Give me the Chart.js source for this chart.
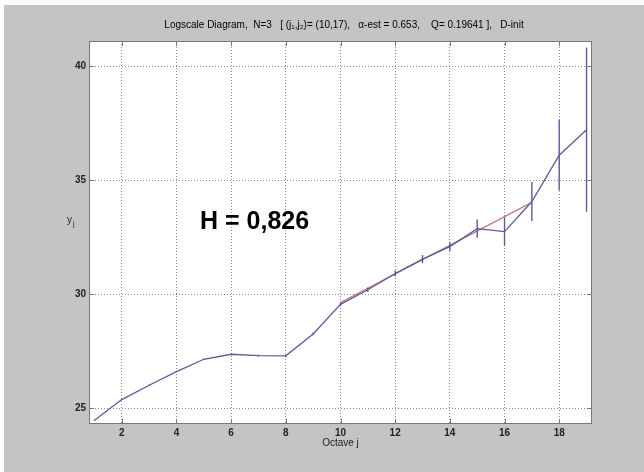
<!DOCTYPE html>
<html>
<head>
<meta charset="utf-8">
<script src="https://cdn.jsdelivr.net/npm/chart.js@4.4.0/dist/chart.umd.min.js"></script>
<style>
  html, body { margin: 0; padding: 0; background: #fff; }
  canvas { display: block; }
</style>
</head>
<body>
<canvas id="logscale" width="644" height="472"></canvas>
<script>
// octaves j and the estimated y_j values
const octaves = [1, 2, 3, 4, 5, 6, 7, 8, 9, 10, 11, 12, 13, 14, 15, 16, 17, 18, 19];
const yj = [24.46, 25.37, 26.0, 26.6, 27.14, 27.36, 27.3, 27.29, 28.25, 29.55,
    30.19, 30.9, 31.53, 32.08, 32.87, 32.74, 34.06, 36.09, 37.21];
// half length of the confidence intervals
const yjErr = [0.02, 0.02, 0.02, 0.02, 0.03, 0.03, 0.04, 0.05, 0.06, 0.08,
    0.1, 0.13, 0.18, 0.2, 0.4, 0.63, 0.86, 1.55, 3.6];
// regression line over (j1, j2) = (10, 17)
const fitX = [10, 17];
const fitY = [29.62, 34.02];

const xTicks = [2, 4, 6, 8, 10, 12, 14, 16, 18];
const yTicks = [25, 30, 35, 40];

const titleText = 'Logscale Diagram,  N=3   [ (j\u2081,j\u2082)= (10,17),   \u03b1-est = 0.653,    Q= 0.19641 ],   D-init';
const hText = 'H = 0,826';

const lineBlue = '#5c5a9c';
const lineRed = '#bf7f80';
const frameGray = '#777';
const gridGray = '#8a8a8a';
const fontFamily = '"Liberation Sans", Arial, sans-serif';

const toPoints = (xs, ys) => xs.map((x, i) => ({ x: x, y: ys[i] }));

const frame = {
    id: 'frame',
    beforeDraw(chart) {
        const { ctx, chartArea: a } = chart;
        ctx.save();
        ctx.fillStyle = '#c4c4c4';
        ctx.fillRect(4, 5, chart.width - 4, chart.height - 5);
        ctx.fillStyle = '#fff';
        ctx.fillRect(a.left, a.top, a.right - a.left, a.bottom - a.top);
        ctx.restore();
    },
    afterDatasetsDraw(chart) {
        const { ctx, chartArea: a, scales } = chart;
        const x = scales.x;
        const y = scales.y;
        ctx.save();
        // error bars
        ctx.strokeStyle = lineBlue;
        ctx.lineWidth = 1.4;
        octaves.forEach((j, i) => {
            const px = x.getPixelForValue(j);
            ctx.beginPath();
            ctx.moveTo(px, y.getPixelForValue(yj[i] - yjErr[i]));
            ctx.lineTo(px, y.getPixelForValue(yj[i] + yjErr[i]));
            ctx.stroke();
        });
        // box and inward tick marks
        ctx.strokeStyle = frameGray;
        ctx.lineWidth = 1;
        ctx.strokeRect(a.left + 0.5, a.top + 0.5, a.right - a.left - 1, a.bottom - a.top - 1);
        ctx.beginPath();
        xTicks.forEach((v) => {
            const px = Math.round(x.getPixelForValue(v)) + 0.5;
            ctx.moveTo(px, a.top); ctx.lineTo(px, a.top + 5);
            ctx.moveTo(px, a.bottom); ctx.lineTo(px, a.bottom - 5);
        });
        yTicks.forEach((v) => {
            const py = Math.round(y.getPixelForValue(v)) + 0.5;
            ctx.moveTo(a.left, py); ctx.lineTo(a.left + 5, py);
            ctx.moveTo(a.right, py); ctx.lineTo(a.right - 5, py);
        });
        ctx.stroke();
        ctx.restore();
    },
    afterDraw(chart) {
        const { ctx } = chart;
        ctx.save();
        ctx.fillStyle = '#000';
        ctx.textAlign = 'center';
        ctx.textBaseline = 'middle';
        ctx.font = '10px ' + fontFamily;
        ctx.fillText(titleText, 344, 25);
        ctx.textAlign = 'left';
        ctx.font = 'bold 25px ' + fontFamily;
        ctx.fillText(hText, 200, 222);
        // y label, horizontal like the original
        ctx.fillStyle = '#222';
        ctx.font = '10px ' + fontFamily;
        ctx.textBaseline = 'alphabetic';
        ctx.fillText('y', 67, 223);
        ctx.font = '7px ' + fontFamily;
        ctx.fillText('j', 73, 226);
        ctx.restore();
    },
};

new Chart(document.getElementById('logscale'), {
    type: 'scatter',
    data: {
        datasets: [
            {
                label: 'fit',
                data: toPoints(fitX, fitY),
                showLine: true,
                borderColor: lineRed,
                borderWidth: 1.4,
                pointRadius: 0,
                order: 2,
            },
            {
                label: 'yj',
                data: toPoints(octaves, yj),
                showLine: true,
                borderColor: lineBlue,
                borderWidth: 1.3,
                pointRadius: 0,
                order: 1,
            },
        ],
    },
    plugins: [frame],
    options: {
        responsive: false,
        animation: false,
        layout: { padding: { left: 0, right: 52, top: 41, bottom: 0 } },
        plugins: {
            legend: { display: false },
            tooltip: { enabled: false },
            title: { display: false },
        },
        scales: {
            x: {
                type: 'linear',
                min: 0.8,
                max: 19.2,
                afterBuildTicks: (scale) => { scale.ticks = xTicks.map((v) => ({ value: v })); },
                afterFit: (scale) => { scale.height = 48; },
                grid: { color: gridGray, drawTicks: false, lineWidth: 1 },
                border: { display: false, dash: [1, 2] },
                ticks: {
                    padding: 3,
                    color: '#222',
                    font: { family: fontFamily, size: 10, weight: 'bold' },
                    maxRotation: 0,
                },
                title: {
                    display: true,
                    text: 'Octave j',
                    color: '#222',
                    font: { family: fontFamily, size: 10 },
                    padding: { top: 0, bottom: 23 },
                },
            },
            y: {
                type: 'linear',
                min: 24.3,
                max: 41.1,
                afterBuildTicks: (scale) => { scale.ticks = yTicks.map((v) => ({ value: v })); },
                afterFit: (scale) => { scale.width = 89; },
                grid: { color: gridGray, drawTicks: false, lineWidth: 1 },
                border: { display: false, dash: [1, 2] },
                ticks: {
                    padding: 3,
                    color: '#222',
                    font: { family: fontFamily, size: 10, weight: 'bold' },
                },
            },
        },
    },
});
</script>
</body>
</html>
